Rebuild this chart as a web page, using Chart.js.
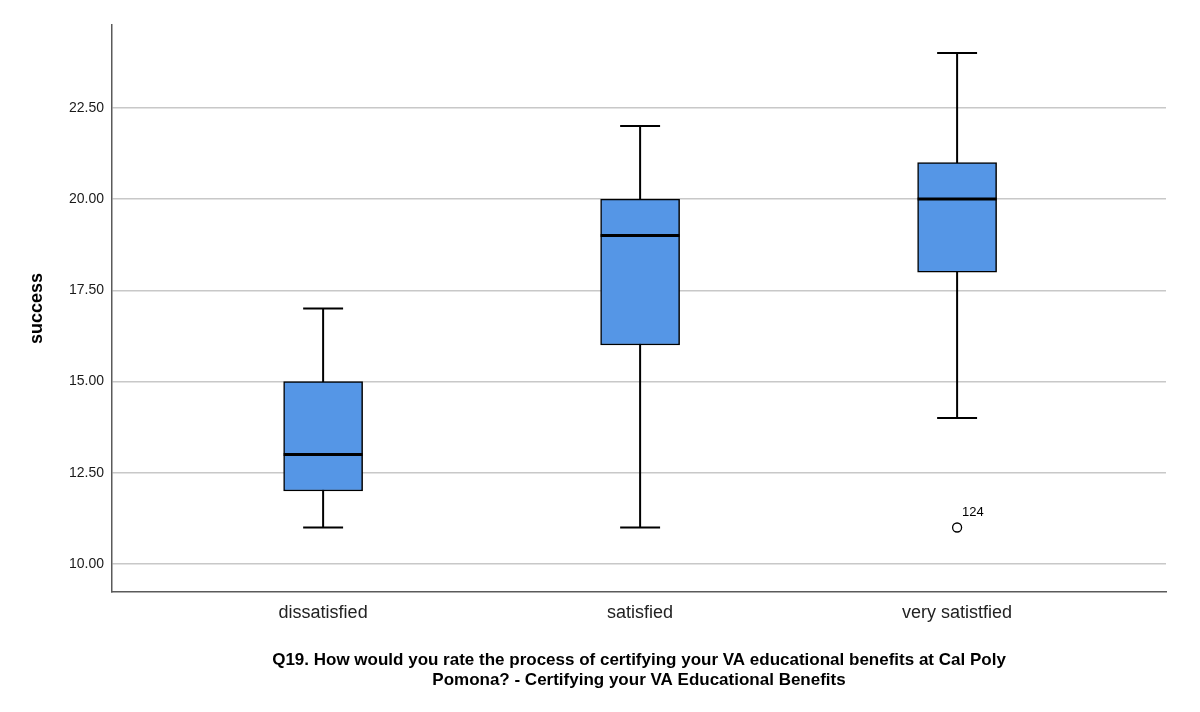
<!DOCTYPE html>
<html>
<head>
<meta charset="utf-8">
<script src="https://cdn.jsdelivr.net/npm/chart.js@4"></script>
<style>
  body { margin: 0; background: #fff; }
</style>
</head>
<body>
<canvas id="myChart" width="1200" height="712"></canvas>
<script>
// box plot values
const categories = ['dissatisfied', 'satisfied', 'very satistfied'];
const mins    = [11, 11, 14];
const q1s     = [12, 16, 18];
const medians = [13, 19, 20];
const q3s     = [15, 20, 21];
const maxs    = [17, 22, 24];
const outlierCat    = [2];
const outlierValues = [11];
const outlierLabels = ['124'];
const yTicks = [10, 12.5, 15, 17.5, 20, 22.5];

const boxColor = '#5596e6';
const halfBox = 0.1246;   // half box width in x units
const halfCap = 0.063;    // half whisker cap width

const datasets = [];

// boxes as floating bars
datasets.push({
  type: 'bar',
  data: categories.map((c, i) => ({ x: i, y: [q1s[i], q3s[i]] })),
  backgroundColor: boxColor,
  borderColor: '#000',
  borderWidth: 1.5,
  borderSkipped: false,
  barThickness: 79,
  order: 2
});

categories.forEach((c, i) => {
  // whisker line (goes behind the box)
  datasets.push({
    type: 'line',
    data: [{ x: i, y: mins[i] }, { x: i, y: maxs[i] }],
    borderColor: '#000', borderWidth: 2, pointRadius: 0, order: 3
  });
  // caps
  [mins[i], maxs[i]].forEach(v => {
    datasets.push({
      type: 'line',
      data: [{ x: i - halfCap, y: v }, { x: i + halfCap, y: v }],
      borderColor: '#000', borderWidth: 2, pointRadius: 0, order: 1
    });
  });
  // median
  datasets.push({
    type: 'line',
    data: [{ x: i - halfBox, y: medians[i] }, { x: i + halfBox, y: medians[i] }],
    borderColor: '#000', borderWidth: 3, pointRadius: 0, order: 1
  });
});

// outliers
datasets.push({
  type: 'scatter',
  data: outlierCat.map((c, i) => ({ x: c, y: outlierValues[i] })),
  pointStyle: 'circle',
  pointRadius: 4.5,
  pointBackgroundColor: '#fff',
  pointBorderColor: '#000',
  pointBorderWidth: 1.3,
  order: 0
});

const outlierText = {
  id: 'outlierText',
  afterDatasetsDraw(chart) {
    const ctx = chart.ctx;
    const xs = chart.scales.x, ys = chart.scales.y;
    ctx.save();
    ctx.font = '13px "Liberation Sans", Arial, sans-serif';
    ctx.fillStyle = '#000';
    ctx.textAlign = 'left';
    ctx.textBaseline = 'middle';
    outlierCat.forEach((c, i) => {
      ctx.fillText(outlierLabels[i], xs.getPixelForValue(c) + 5, ys.getPixelForValue(outlierValues[i]) - 15);
    });
    ctx.restore();
  }
};

const ctx = document.getElementById('myChart');

new Chart(ctx, {
  type: 'bar',
  data: { datasets: datasets },
  options: {
    responsive: false,
    animation: false,
    devicePixelRatio: 1,
    layout: { padding: { top: 25, right: 34, left: 0, bottom: 0 } },
    plugins: {
      legend: { display: false },
      tooltip: { enabled: false }
    },
    scales: {
      x: {
        type: 'linear',
        offset: false,
        min: -0.666,
        max: 2.659,
        afterFit: scale => { scale.height = 120; },
        afterBuildTicks: scale => { scale.ticks = categories.map((c, i) => ({ value: i })); },
        grid: { display: false, drawTicks: false },
        border: { display: true, color: '#5a5a5a', width: 1.5 },
        ticks: {
          padding: 10,
          color: '#222',
          font: { family: '"Liberation Sans", Arial, sans-serif', size: 18 },
          callback: v => categories[v]
        },
        title: {
          display: true,
          text: ['Q19. How would you rate the process of certifying your VA educational benefits at Cal Poly',
                 'Pomona? - Certifying your VA Educational Benefits'],
          color: '#000',
          font: { family: '"Liberation Sans", Arial, sans-serif', size: 17, weight: 'bold', lineHeight: 1.2 },
          padding: { bottom: 21 }
        }
      },
      y: {
        min: 9.232,
        max: 24.77,
        afterFit: scale => { scale.width = 112; },
        afterBuildTicks: scale => { scale.ticks = yTicks.map(v => ({ value: v })); },
        grid: { color: '#c8c8c8', lineWidth: 1.5, drawTicks: false },
        border: { display: true, color: '#5a5a5a', width: 1.5 },
        ticks: {
          padding: 8,
          color: '#1a1a1a',
          font: { family: '"Liberation Sans", Arial, sans-serif', size: 14 },
          callback: v => v.toFixed(2)
        },
        title: {
          display: true,
          text: 'success',
          color: '#000',
          font: { family: '"Liberation Sans", Arial, sans-serif', size: 18, weight: 'bold', lineHeight: 1.2 },
          padding: { top: 26 }
        }
      }
    }
  },
  plugins: [outlierText]
});
</script>
</body>
</html>
